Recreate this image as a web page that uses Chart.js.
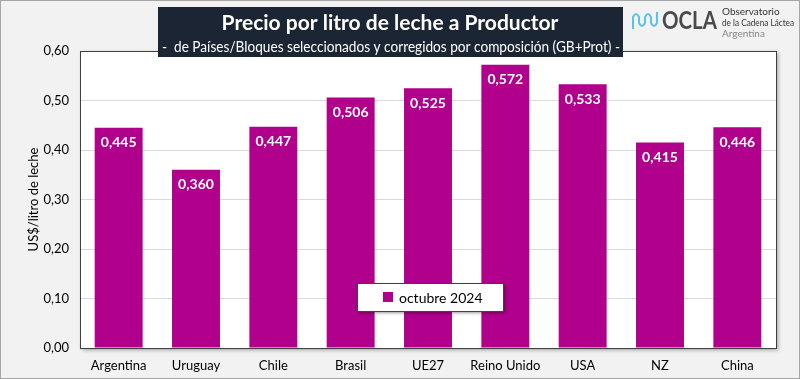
<!DOCTYPE html>
<html>
<head>
<meta charset="utf-8">
<script src="https://cdn.jsdelivr.net/npm/chart.js@4"></script>
<style>
  html, body { margin: 0; padding: 0; background: #f2f2f2; }
  #wrap { position: relative; width: 800px; height: 379px; }
</style>
</head>
<body>
<div id="wrap"><canvas id="milkChart" width="800" height="379"></canvas></div>
<script>
// datos
const paises = ['Argentina', 'Uruguay', 'Chile', 'Brasil', 'UE27', 'Reino Unido', 'USA', 'NZ', 'China'];
const precios = [0.445, 0.360, 0.447, 0.506, 0.525, 0.572, 0.533, 0.415, 0.446];
const serieNombre = 'octubre 2024';
const ejeMax = 0.6;
const ejePaso = 0.1;

const FONT = 'Lato, "Open Sans", sans-serif';
const MAGENTA = '#b0008c';

const coma = (v, d) => v.toFixed(d).replace('.', ',');

// fondo, marco del área de trazado, etiquetas, leyenda, título y logo
const decoPlugin = {
  id: 'deco',
  beforeDraw(chart) {
    const { ctx, chartArea: a, width, height } = chart;
    ctx.save();
    ctx.fillStyle = '#f2f2f2';
    ctx.fillRect(0, 0, width, height);
    ctx.strokeStyle = '#a6a6a6';
    ctx.lineWidth = 1;
    ctx.strokeRect(0.5, 0.5, width - 1, height - 1);
    // sombra del área de trazado
    ctx.shadowColor = 'rgba(0,0,0,0.35)';
    ctx.shadowBlur = 4;
    ctx.shadowOffsetX = 2;
    ctx.shadowOffsetY = 2;
    ctx.fillStyle = '#ffffff';
    ctx.fillRect(a.left, a.top, a.right - a.left, a.bottom - a.top);
    ctx.restore();
  },
  afterDatasetsDraw(chart) {
    const { ctx, chartArea: a } = chart;
    ctx.save();
    ctx.strokeStyle = '#404040';
    ctx.lineWidth = 1;
    ctx.strokeRect(Math.round(a.left) + 0.5, Math.round(a.top) + 0.5,
      Math.round(a.right - a.left), Math.round(a.bottom - a.top));

    // valores dentro de las barras
    const meta = chart.getDatasetMeta(0);
    ctx.fillStyle = '#ffffff';
    ctx.font = 'bold 14px ' + FONT;
    ctx.textAlign = 'center';
    ctx.textBaseline = 'middle';
    meta.data.forEach((bar, i) => {
      ctx.fillText(coma(precios[i], 3), bar.x, bar.y + 15);
    });

    // leyenda
    const lx = 357, ly = 283, lw = 146, lh = 28;
    ctx.shadowColor = 'rgba(0,0,0,0.4)';
    ctx.shadowBlur = 3;
    ctx.shadowOffsetX = 2;
    ctx.shadowOffsetY = 2;
    ctx.fillStyle = '#ffffff';
    ctx.fillRect(lx, ly, lw, lh);
    ctx.shadowColor = 'transparent';
    ctx.strokeStyle = '#404040';
    ctx.strokeRect(lx + 0.5, ly + 0.5, lw, lh);
    ctx.fillStyle = MAGENTA;
    ctx.fillRect(lx + 26, ly + 9, 10, 10);
    ctx.fillStyle = '#000000';
    ctx.font = '14px ' + FONT;
    ctx.textAlign = 'left';
    ctx.fillText(serieNombre, lx + 42, ly + 15);

    // caja de título
    ctx.fillStyle = '#1c2533';
    ctx.fillRect(158, 7, 465, 50);
    ctx.fillStyle = '#ffffff';
    ctx.textAlign = 'center';
    ctx.font = 'bold 21px ' + FONT;
    ctx.fillText('Precio por litro de leche a Productor', 390, 23);
    ctx.font = '14.5px ' + FONT;
    ctx.fillText('-  de Países/Bloques seleccionados y corregidos por composición (GB+Prot) -', 391, 47, 458);

    // logo OCLA
    ctx.strokeStyle = '#5bc4e6';
    ctx.lineWidth = 2;
    ctx.beginPath();
    ctx.moveTo(633, 29);
    ctx.lineTo(633, 17);
    ctx.quadraticCurveTo(636, 11, 639, 17);
    ctx.lineTo(639, 23);
    ctx.quadraticCurveTo(642, 29, 645, 23);
    ctx.lineTo(645, 17);
    ctx.quadraticCurveTo(648, 11, 651, 17);
    ctx.lineTo(651, 23);
    ctx.quadraticCurveTo(654, 29, 657, 23);
    ctx.lineTo(657, 12);
    ctx.stroke();
    ctx.fillStyle = '#4a4a4a';
    ctx.textAlign = 'left';
    ctx.font = 'bold 24px ' + FONT;
    ctx.fillText('OCLA', 662, 21, 55);
    ctx.font = '10px ' + FONT;
    ctx.fillStyle = '#333333';
    ctx.fillText('Observatorio', 722, 12, 72);
    ctx.fillText('de la Cadena Láctea', 722, 23, 72);
    ctx.fillStyle = '#888888';
    ctx.fillText('Argentina', 722, 34, 72);
    ctx.restore();
  }
};

new Chart(document.getElementById('milkChart'), {
  type: 'bar',
  data: {
    labels: paises,
    datasets: [{
      label: serieNombre,
      data: precios,
      backgroundColor: MAGENTA,
      borderWidth: 0,
      barPercentage: 0.62,
      categoryPercentage: 1.0
    }]
  },
  options: {
    responsive: false,
    animation: false,
    devicePixelRatio: 1,
    layout: { padding: { left: 0, right: 24, top: 51, bottom: 0 } },
    plugins: {
      legend: { display: false },
      tooltip: { enabled: false }
    },
    scales: {
      x: {
        grid: { display: false, drawTicks: false },
        border: { display: false },
        ticks: { color: '#000000', font: { family: FONT, size: 13 }, padding: 10, maxRotation: 0 },
        afterFit(s) { s.height = 31; }
      },
      y: {
        min: 0,
        max: ejeMax,
        ticks: {
          stepSize: ejePaso,
          color: '#000000',
          font: { family: FONT, size: 13 },
          padding: 11,
          callback: v => coma(v, 2)
        },
        grid: { color: '#d9d9d9', drawTicks: false },
        border: { display: false },
        title: {
          display: true,
          text: 'US$/litro de leche',
          color: '#000000',
          font: { family: FONT, size: 13 },
          padding: { top: 26, bottom: 0 }
        },
        afterFit(s) { s.width = 80; }
      }
    }
  },
  plugins: [decoPlugin]
});
</script>
</body>
</html>
